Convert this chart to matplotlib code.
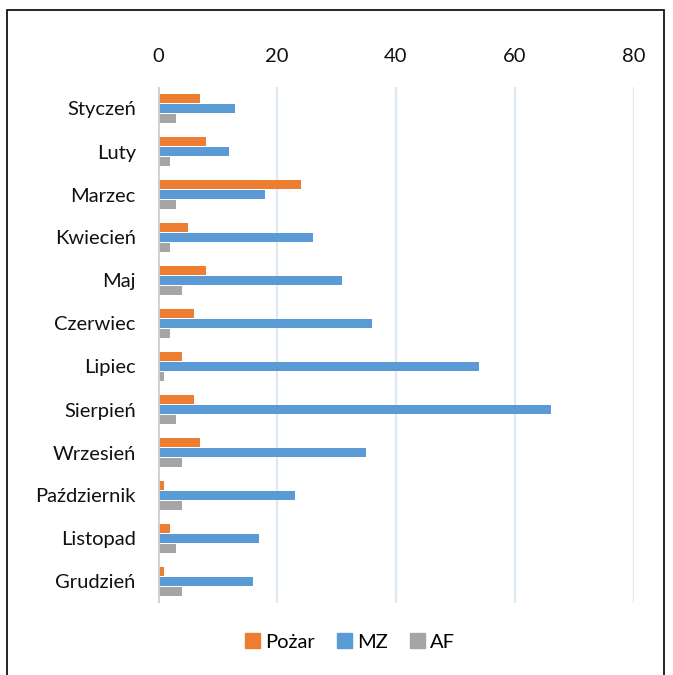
import matplotlib.pyplot as plt
from matplotlib.patches import Rectangle
import numpy as np

months = ["Styczeń", "Luty", "Marzec", "Kwiecień", "Maj", "Czerwiec", "Lipiec",
          "Sierpień", "Wrzesień", "Październik", "Listopad", "Grudzień"]
pozar = [7, 8, 24, 5, 8, 6, 4, 6, 7, 1, 2, 1]
mz = [13, 12, 18, 26, 31, 36, 54, 66, 35, 23, 17, 16]
af = [3, 2, 3, 2, 4, 2, 1, 3, 4, 4, 3, 4]

series = [("Pożar", pozar, "#ed7d31"), ("MZ", mz, "#5b9bd5"), ("AF", af, "#a5a5a5")]

plt.rcParams['font.family'] = ['Lato', 'DejaVu Sans']

fig = plt.figure(figsize=(6.73, 6.75), dpi=100)
ax = fig.add_axes([158 / 673, 1 - 603 / 675, (634 - 158) / 673, (603 - 87) / 675])

y = np.arange(len(months))
offsets = [-0.233, 0, 0.233]
for (name, vals, color), off in zip(series, offsets):
    ax.barh(y + off, vals, height=0.19, color=color, label=name, zorder=3)

ax.set_xlim(0, 80)
ax.set_ylim(len(months) - 0.5, -0.5)
ax.set_xticks([0, 20, 40, 60, 80])
ax.set_yticks(y)
ax.set_yticklabels(months)
ax.xaxis.tick_top()
ax.tick_params(axis='both', length=0, labelsize=14.5, colors='#111111')
ax.tick_params(axis='x', pad=16)
ax.tick_params(axis='y', pad=16)

for s in ax.spines.values():
    s.set_visible(False)
ax.grid(axis='x', color='#dde8f5', linewidth=1.6, zorder=0)
ax.axvline(0, color='#d0d0d0', linewidth=2, zorder=4)

handles = [Rectangle((0, 0), 1, 1, color=c) for _, _, c in series]
fig.legend(handles, [n for n, _, _ in series], loc='center', bbox_to_anchor=(350 / 673, 1 - 642 / 675),
           ncol=3, frameon=False, fontsize=14.5, handlelength=0.75, handleheight=0.75,
           handletextpad=0.25, columnspacing=1.1)

fig.patches.append(Rectangle((7 / 673, -0.02), (664 - 7) / 673, 1.02 - 10 / 675,
                             transform=fig.transFigure, fill=False, edgecolor='black', linewidth=1.2))

fig.savefig("out.png", dpi=100)
